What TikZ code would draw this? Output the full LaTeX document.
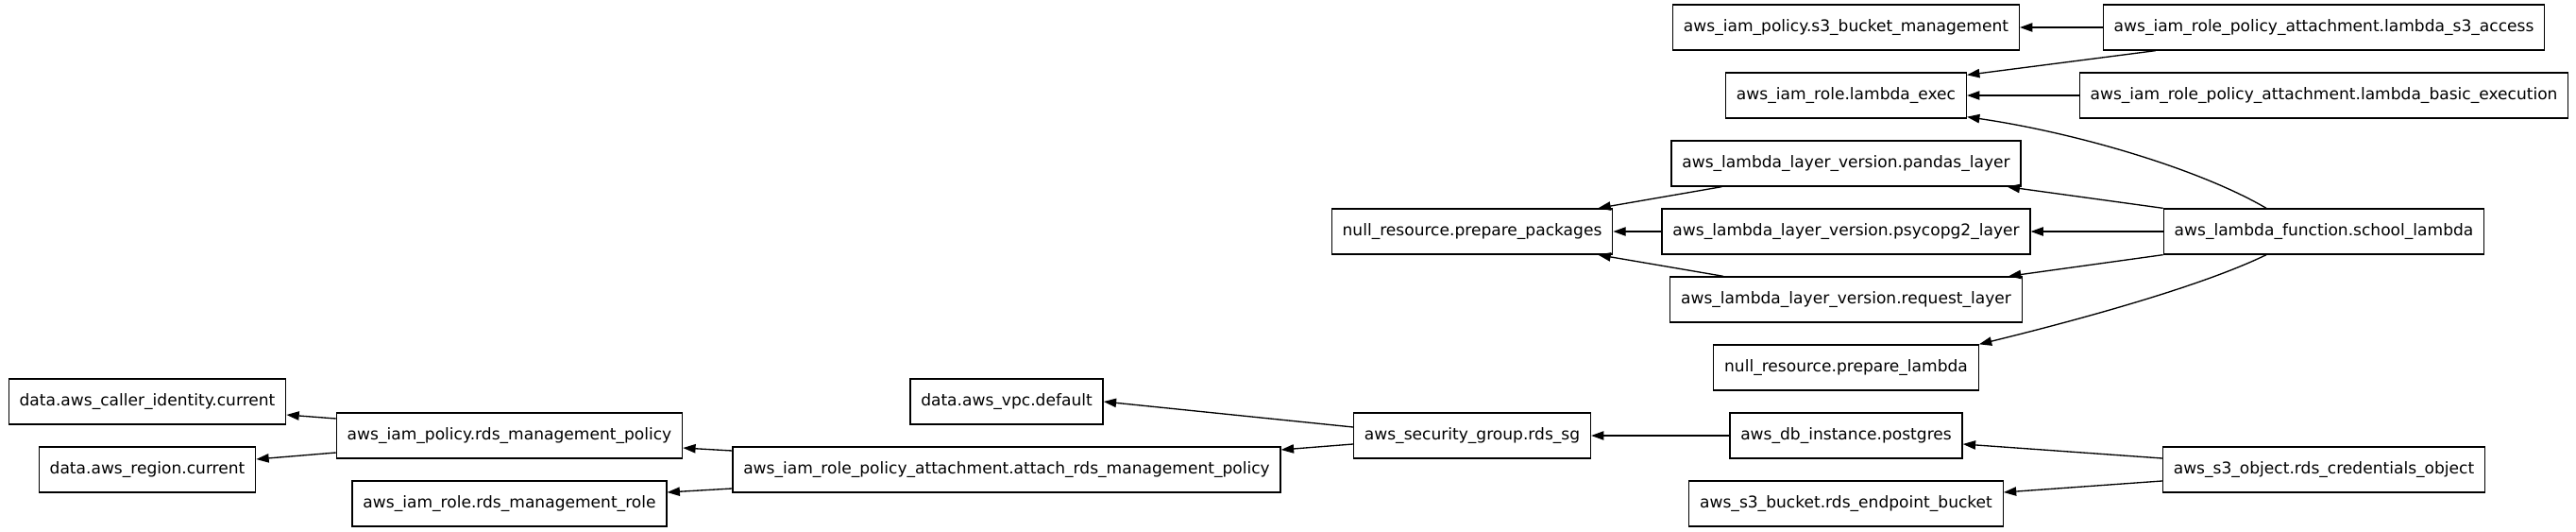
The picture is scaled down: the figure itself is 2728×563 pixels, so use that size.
\documentclass[tikz,border=0pt]{standalone}
\usepackage{fontspec}
\setmainfont{DejaVu Sans}
\usepackage{tikz}
\usetikzlibrary{calc}
\usetikzlibrary{arrows.meta}

\begin{document}
\begin{tikzpicture}[x=0.75pt,y=-0.75pt,
        res/.style={draw,line width=1pt,minimum height=36pt,inner xsep=8.5pt,inner ysep=0pt,
            font=\fontsize{12.8}{15}\selectfont},
        dep/.style={-{Triangle[length=10pt,width=7pt]},line width=1pt}]
                    \useasboundingbox (0,0) rectangle (2728,563);
                    % lambda resources
                    \node[res] (s3bucket) at (1955,29) {aws\_iam\_policy.s3\_bucket\_management};
                    \node[res] (s3access) at (2461,29) {aws\_iam\_role\_policy\_attachment.lambda\_s3\_access};
                    \node[res] (lambdaexec) at (1955,101) {aws\_iam\_role.lambda\_exec};
                    \node[res] (basicexec) at (2461,101) {aws\_iam\_role\_policy\_attachment.lambda\_basic\_execution};
                    \node[res] (pandas) at (1955,173) {aws\_lambda\_layer\_version.pandas\_layer};
                    \node[res] (prep) at (1559,245) {null\_resource.prepare\_packages};
                    \node[res] (psyco) at (1955,245) {aws\_lambda\_layer\_version.psycopg2\_layer};
                    \node[res] (school) at (2461,245) {aws\_lambda\_function.school\_lambda};
                    \node[res] (request) at (1955,317) {aws\_lambda\_layer\_version.request\_layer};
                    \node[res] (prepl) at (1955,389) {null\_resource.prepare\_lambda};
                    % rds resources
                    \node[res] (caller) at (156,425) {data.aws\_caller\_identity.current};
                    \node[res] (vpc) at (1066,425) {data.aws\_vpc.default};
                    \node[res] (rdspol) at (539.5,461) {aws\_iam\_policy.rds\_management\_policy};
                    \node[res] (sg) at (1559,461) {aws\_security\_group.rds\_sg};
                    \node[res] (db) at (1955,461) {aws\_db\_instance.postgres};
                    \node[res] (region) at (156,497) {data.aws\_region.current};
                    \node[res] (attach) at (1066,497) {aws\_iam\_role\_policy\_attachment.attach\_rds\_management\_policy};
                    \node[res] (s3obj) at (2461,497) {aws\_s3\_object.rds\_credentials\_object};
                    \node[res] (rdsrole) at (539.5,533) {aws\_iam\_role.rds\_management\_role};
                    \node[res] (s3b) at (1955,533) {aws\_s3\_bucket.rds\_endpoint\_bucket};
                    % dependencies
                    \draw[dep] (s3access.west) -- (s3bucket.east);
                    \draw[dep] ($(s3access.south west)+(56,0)$) -- ($(lambdaexec.north east)+(0,3)$);
                    \draw[dep] (basicexec.west) -- (lambdaexec.east);
                    \draw[dep] ($(school.north)+(-61,0)$) .. controls +(-70,-41) and +(117,17) .. ($(lambdaexec.south east)+(0,-2)$);
                    \draw[dep] (school.north west) -- ($(pandas.south east)+(-15,0)$);
                    \draw[dep] (school.west) -- (psyco.east);
                    \draw[dep] (school.south west) -- ($(request.north east)+(-15,0)$);
                    \draw[dep] ($(school.south)+(-61,0)$) .. controls +(-70,34) and +(102,-25) .. (prepl.north east);
                    \draw[dep] ($(pandas.south west)+(54,0)$) -- ($(prep.north east)+(-16,0)$);
                    \draw[dep] (psyco.west) -- (prep.east);
                    \draw[dep] ($(request.north west)+(57,0)$) -- ($(prep.south east)+(-16,0)$);
                    \draw[dep] ($(sg.west)+(0,-9)$) -- (vpc.east);
                    \draw[dep] ($(sg.west)+(0,9)$) -- ($(attach.east)+(0,-21)$);
                    \draw[dep] (db.west) -- (sg.east);
                    \draw[dep] ($(s3obj.west)+(0,-12)$) -- ($(db.east)+(0,9)$);
                    \draw[dep] ($(s3obj.west)+(0,12)$) -- ($(s3b.east)+(0,-12)$);
                    \draw[dep] ($(attach.west)+(0,-20)$) -- ($(rdspol.east)+(0,13)$);
                    \draw[dep] ($(attach.west)+(0,20)$) -- ($(rdsrole.east)+(0,-12)$);
                    \draw[dep] ($(rdspol.west)+(0,-18)$) -- ($(caller.east)+(0,14)$);
                    \draw[dep] ($(rdspol.west)+(0,18)$) -- ($(region.east)+(0,-11)$);
                \end{tikzpicture}
\end{document}
